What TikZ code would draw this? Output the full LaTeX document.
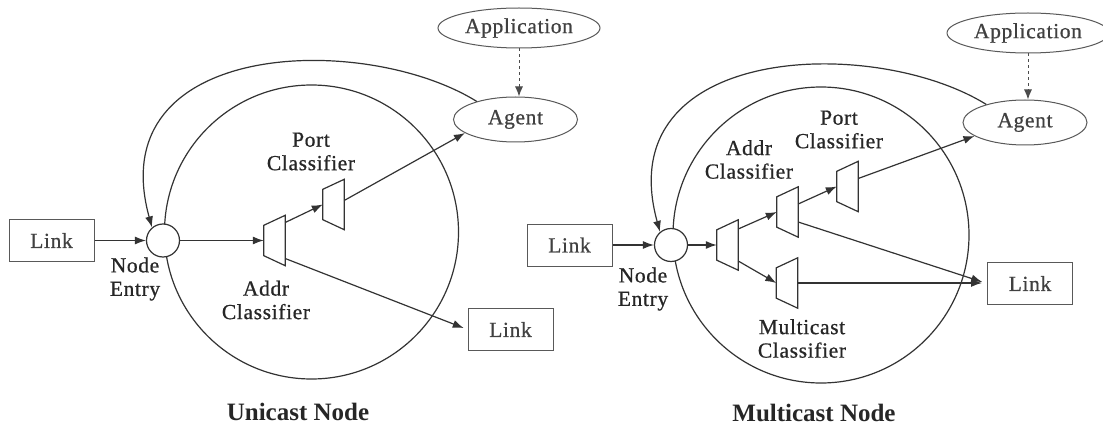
\documentclass[tikz,border=0pt]{standalone}
\usepackage{fontspec}
\setmainfont{Liberation Serif}
\usetikzlibrary{arrows.meta,shapes.geometric,calc}

% label fonts
\newcommand\lblfont{\fontsize{21.5}{23.5}\selectfont\addfontfeatures{LetterSpace=3,FakeBold=0.7}}
\newcommand\ttlfont{\fontsize{25}{28}\selectfont\bfseries}

\tikzset{
  ink/.style={draw=black!80, line width=1.2pt},
  arr/.style={ink, -{Latex[length=11pt,width=8pt]}},
  dasharr/.style={draw=black!70, line width=1pt, dash pattern=on 3pt off 3pt,
    -{Latex[length=10pt,width=8pt]}},
  linkbox/.style={draw=black!65, line width=1pt, rectangle, minimum width=85pt,
    minimum height=42pt, inner sep=0pt, font=\lblfont, text=black!75},
  oval/.style={draw=black!65, line width=1pt, ellipse, inner sep=0pt,
    font=\lblfont, text=black!75},
  agentoval/.style={oval, minimum width=124pt, minimum height=45pt},
  appoval/.style={oval, minimum width=162pt, minimum height=40pt},
  entrypt/.style={ink, fill=white, circle, minimum size=33pt, inner sep=0pt},
  nodering/.style={ink, circle, inner sep=0pt},
  clsf/.style={rectangle, minimum width=21pt, minimum height=50pt, inner sep=0pt},
  lbl/.style={font=\lblfont, text=black!85, align=center, inner sep=0pt},
  ttl/.style={font=\ttlfont, text=black!85, inner sep=0pt},
}

% classifier outline: narrow side on the left, wide side on the right
\newcommand\trapz[1]{\draw[ink] ([yshift=-10pt]#1.north west) -- (#1.north east)
  -- (#1.south east) -- ([yshift=10pt]#1.south west) -- cycle;}

\begin{document}
\begin{tikzpicture}[x=1pt,y=-1pt]
\clip (0,0) rectangle (1103,425);
\fill[white] (0,0) rectangle (1103,425);

% ---------------- Unicast node ----------------
\node[nodering, minimum size=294pt] (ringU) at (311.5,232) {};
\node[entrypt] (entU) at (163,240.5) {};
\node[linkbox] (inU) at (51.5,240.5) {Link};
\node[clsf] (addrU) at (274.5,240.5) {};
\node[clsf] (portU) at (333.5,204.5) {};
\node[linkbox] (outU) at (510.5,329.5) {Link};
\node[agentoval] (agentU) at (515.5,119.5) {Agent};
\node[appoval] (appU) at (519,28) {Application};
\trapz{addrU}
\trapz{portU}

\node[lbl] (entUl) at (135,279) {Node\\Entry};
\node[lbl] (addrUl) at (266,300) {Addr\\Classifier};
\node[lbl] (portUl) at (311,151.5) {Port\\Classifier};
\node[ttl] (ttlU) at (298,412) {Unicast Node};

\draw[arr] (inU) -- (entU);
\draw[arr] (entU) -- (addrU);
\draw[arr] ([yshift=18pt]addrU.east) -- (portU.west);
\draw[arr] ([yshift=4pt]portU.east) -- (agentU.195);
\draw[arr, shorten >=4pt] ([yshift=-18pt]addrU.east) -- (outU.west);
\draw[dasharr] (appU) -- (appU |- agentU.north);
\draw[arr] (agentU.155) .. controls +(-113,-70) and +(-52,-188) .. (entU.130);

% ---------------- Multicast node ----------------
\node[nodering, minimum size=296pt] (ringM) at (821,235) {};
\node[entrypt] (entM) at (671,245) {};
\node[linkbox] (inM) at (569.5,245) {Link};
\node[clsf] (addrM) at (727.5,245) {};
\node[clsf] (hostM) at (787.5,212) {};
\node[clsf] (portM) at (847.5,186.5) {};
\node[clsf] (mcastM) at (787,283) {};
\node[linkbox] (outM) at (1030,283.5) {Link};
\node[agentoval] (agentM) at (1025,122.5) {Agent};
\node[appoval] (appM) at (1028,33) {Application};
\trapz{addrM}
\trapz{hostM}
\trapz{portM}
\trapz{mcastM}

\node[lbl] (entMl) at (643,289) {Node\\Entry};
\node[lbl] (addrMl) at (749,159.5) {Addr\\Classifier};
\node[lbl] (portMl) at (839,129.5) {Port\\Classifier};
\node[lbl] (mcastMl) at (802,338.5) {Multicast\\Classifier};
\node[ttl] (ttlM) at (814,413) {Multicast Node};

\draw[arr] (inM) -- (entM);
\draw[arr] (entM) -- (addrM);
\draw[arr] ([yshift=16pt]addrM.east) -- (hostM.west);
\draw[arr] ([yshift=-16pt]addrM.east) -- (mcastM.west);
\draw[arr] ([yshift=8pt]hostM.east) -- (portM.west);
\draw[arr] ([yshift=8pt]portM.east) -- (agentM.195);
\draw[arr, shorten >=5pt] ([yshift=-10pt]hostM.east) -- (outM.west);
\draw[arr, shorten >=5pt] (mcastM.east) -- (mcastM.east -| outM.west);
\draw[dasharr] (appM) -- (appM |- agentM.north);
\draw[arr] (agentM.155) .. controls +(-113,-70) and +(-52,-188) .. (entM.130);
\end{tikzpicture}
\end{document}
